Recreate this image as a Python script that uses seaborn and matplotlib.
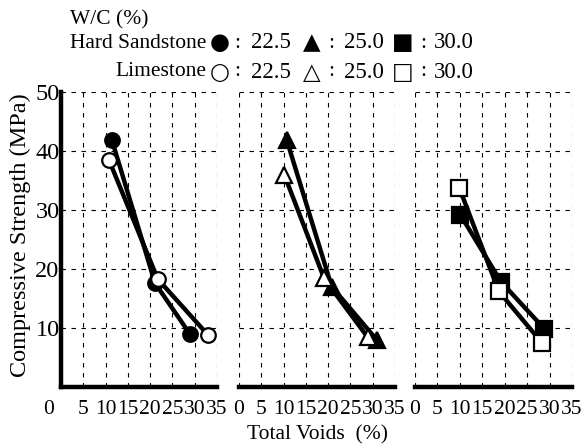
import matplotlib
matplotlib.use("Agg")
import matplotlib.pyplot as plt
import seaborn as sns
import pandas as pd
from matplotlib.transforms import ScaledTranslation

# ---------------- data ----------------
wc_labels = ["22.5", "25.0", "30.0"]
rock_labels = ["Hard Sandstone", "Limestone"]
filled_glyphs = ["●", "▲", "■"]
open_glyphs = ["○", "△", "□"]

# W/C 22.5 (circles)
voids_hs_225 = [11.4, 21.1, 28.9]
cs_hs_225 = [41.9, 17.6, 9.0]
voids_ls_225 = [10.8, 21.7, 33.0]
cs_ls_225 = [38.4, 18.3, 8.8]
# W/C 25.0 (triangles)
voids_hs_250 = [10.7, 20.8, 30.9]
cs_hs_250 = [41.9, 17.0, 8.0]
voids_ls_250 = [10.2, 19.1, 28.9]
cs_ls_250 = [35.9, 18.4, 8.4]
# W/C 30.0 (squares)
voids_hs_300 = [10.1, 19.2, 28.8]
cs_hs_300 = [29.2, 17.8, 9.9]
voids_ls_300 = [9.9, 18.7, 28.4]
cs_ls_300 = [33.7, 16.2, 7.4]

x_ticks = [0, 5, 10, 15, 20, 25, 30, 35]
x_tick_labels = ["0", "5", "10", "15", "20", "25", "30", "35"]
y_ticks = [10, 20, 30, 40, 50]
y_tick_labels = ["10", "20", "30", "40", "50"]

# ---------------- style ----------------
sns.set_theme(style="white")
plt.rcParams["font.family"] = ["Liberation Serif", "DejaVu Sans"]
plt.rcParams.update({
    "font.size": 15.5,
    "axes.edgecolor": "black",
    "axes.labelcolor": "black",
    "text.color": "black",
    "xtick.color": "black",
    "ytick.color": "black",
})

W, H = 584, 446
fig = plt.figure(figsize=(W / 100, H / 100), dpi=100)


def rect(x0, x1, ytop, ybot):
    return [x0 / W, 1 - ybot / H, (x1 - x0) / W, (ybot - ytop) / H]


panel_px = [(61, 217), (239, 395), (415, 572)]
axes = [fig.add_axes(rect(a, b, 92, 387)) for a, b in panel_px]

series = [
    [(voids_hs_225, cs_hs_225, "o", "black", 10.5), (voids_ls_225, cs_ls_225, "o", "white", 10.5)],
    [(voids_hs_250, cs_hs_250, "^", "black", 12), (voids_ls_250, cs_ls_250, "^", "white", 12)],
    [(voids_hs_300, cs_hs_300, "s", "black", 11), (voids_ls_300, cs_ls_300, "s", "white", 11)],
]

for i, ax in enumerate(axes):
    for vx, vy, mk, fc, ms in series[i]:
        df = pd.DataFrame({"voids": vx, "strength": vy})
        sns.lineplot(data=df, x="voids", y="strength", ax=ax, sort=False,
                     color="black", linewidth=3.2, marker=mk, markersize=ms,
                     markerfacecolor=fc, markeredgecolor="black",
                     markeredgewidth=1.6, clip_on=False, zorder=3)
    ax.set_xlim(0, 35)
    ax.set_ylim(0, 50)
    ax.set_xticks(x_ticks)
    ax.set_xticklabels(x_tick_labels)
    ax.set_yticks(y_ticks)
    ax.set_axisbelow(True)
    ax.grid(True, color="black", linestyle=(0, (4, 5)), linewidth=0.8)
    for s in ["top", "right"]:
        ax.spines[s].set_visible(False)
    ax.spines["bottom"].set_linewidth(3.2)
    ax.tick_params(axis="x", direction="in", length=5, width=3.2, pad=9,
                   labelsize=15.5)
    ax.set_xlabel("")
    ax.set_ylabel("")
    if i == 0:
        ax.spines["left"].set_linewidth(3.2)
        ax.set_yticklabels(y_tick_labels)
        ax.tick_params(axis="y", direction="in", length=7, width=3.2, pad=1,
                       labelsize=17.5)
        ax.set_ylabel("Compressive Strength (MPa)", fontsize=17.5)
        ax.yaxis.set_label_coords(-0.195, 0.515)
    else:
        ax.spines["left"].set_visible(False)
        ax.tick_params(axis="y", left=False, labelleft=False)

# shift the first "0" of the left panel away from the spine
lbl0 = axes[0].get_xticklabels()[0]
lbl0.set_transform(lbl0.get_transform() + ScaledTranslation(-0.12, 0, fig.dpi_scale_trans))

axes[1].set_xlabel("Total Voids  (%)", fontsize=15.5, labelpad=5)

# ---------------- header legend ----------------
fs = 15.5
fig.text(70 / W, 1 - 20 / H, "W/C (%)", ha="left", va="center", fontsize=fs)
row_y = [43, 72]
glyph_x = [220, 312, 403]
colon_x = [237, 331, 423]
val_x = [251, 344, 434]
for r, (rock, glyphs) in enumerate(zip(rock_labels, [filled_glyphs, open_glyphs])):
    y = 1 - row_y[r] / H
    fig.text(206 / W, y, rock, ha="right", va="center", fontsize=fs)
    for g, gx, cx, vx, val in zip(glyphs, glyph_x, colon_x, val_x, wc_labels):
        fig.text(gx / W, y, g, ha="center", va="center", fontsize=fs + 1,
                 family=["DejaVu Sans"])
        fig.text(cx / W, y, ":", ha="center", va="center", fontsize=fs)
        fig.text(vx / W, y, val, ha="left", va="center", fontsize=fs + 1)

fig.savefig("out.png", dpi=100)
